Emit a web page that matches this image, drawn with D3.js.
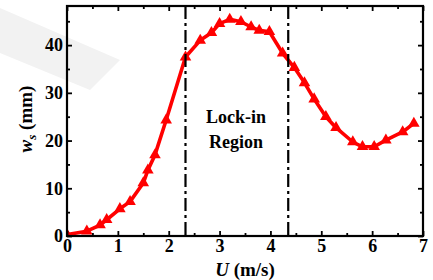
<!DOCTYPE html>
<html><head><meta charset="utf-8">
<script src="https://cdn.jsdelivr.net/npm/d3@7"></script>
<style>body{margin:0;background:#fff}svg{display:block}</style>
</head><body>
<svg id="c" width="433" height="280"></svg>
<script>
const U = [0, 0.39, 0.65, 0.78, 1.04, 1.24, 1.50, 1.59, 1.73, 1.95, 2.33, 2.62, 2.84, 3.0, 3.2, 3.42, 3.62, 3.78, 3.98, 4.24, 4.47, 4.67, 4.86, 5.09, 5.29, 5.62, 5.81, 6.04, 6.27, 6.6, 6.82];
const W = [0.3, 1.0, 2.3, 3.4, 5.7, 7.2, 11.1, 13.8, 17.0, 24.3, 37.5, 41.0, 42.6, 44.5, 45.4, 44.9, 43.8, 43.1, 42.8, 38.3, 35.3, 32.1, 28.7, 25.0, 22.7, 19.7, 18.7, 18.7, 20.1, 21.8, 23.6];
const lockIn = [2.33, 4.35];
const xTicks = [0, 1, 2, 3, 4, 5, 6, 7];
const yTicks = [0, 10, 20, 30, 40];

const svg = d3.select("#c");
const L = 67, R = 423, T = 6, B = 236;
const x = d3.scaleLinear().domain([0, 7]).range([L, R]);
const y = d3.scaleLinear().domain([0, 48.2]).range([B, T]);

// watermark band
svg.append("polygon").attr("points", "0,8 120,60 90,90 0,53").attr("fill", "#f2f2f2");

svg.append("clipPath").attr("id", "clip").append("rect")
  .attr("x", L).attr("y", T).attr("width", R - L).attr("height", B - T);

const g = svg.append("g").attr("clip-path", "url(#clip)");
const data = U.map((u, i) => [u, W[i]]);
g.append("path").datum(data)
  .attr("d", d3.line().x(d => x(d[0])).y(d => y(d[1])))
  .attr("fill", "none").attr("stroke", "#ff0000").attr("stroke-width", 3.6).attr("stroke-linejoin", "round");
g.selectAll("path.m").data(data).enter().append("path").attr("class", "m")
  .attr("d", d3.symbol().type(d3.symbolTriangle).size(58))
  .attr("transform", d => `translate(${x(d[0])},${y(d[1])})`)
  .attr("fill", "#ff0000");

// lock-in lines
svg.selectAll("line.lk").data(lockIn).enter().append("line").attr("class", "lk")
  .attr("x1", d => x(d)).attr("x2", d => x(d)).attr("y1", T).attr("y2", B)
  .attr("stroke", "#000").attr("stroke-width", 2.2).attr("stroke-dasharray", "13,4,3,4");

// axes (inward ticks)
const fnt = "'Liberation Serif', 'Times New Roman', serif";
function minor(arr, step) { const r = []; for (let i = 0; i < arr.length - 1; i++) r.push(arr[i] + step); return r; }
const xMinor = minor(xTicks, 0.5), yMinor = minor(yTicks, 5).concat([45]);

const ax = svg.append("g").attr("transform", `translate(0,${B})`)
  .call(d3.axisBottom(x).tickValues(xTicks).tickSizeInner(-5).tickSizeOuter(0).tickPadding(3).tickFormat(d3.format("d")));
const axm = svg.append("g").attr("transform", `translate(0,${B})`)
  .call(d3.axisBottom(x).tickValues(xMinor).tickSizeInner(-3).tickSizeOuter(0).tickFormat(""));
const at = svg.append("g").attr("transform", `translate(0,${T})`)
  .call(d3.axisTop(x).tickValues(xTicks).tickSizeInner(-5).tickSizeOuter(0).tickFormat(""));
const atm = svg.append("g").attr("transform", `translate(0,${T})`)
  .call(d3.axisTop(x).tickValues(xMinor).tickSizeInner(-3).tickSizeOuter(0).tickFormat(""));
const ay = svg.append("g").attr("transform", `translate(${L},0)`)
  .call(d3.axisLeft(y).tickValues(yTicks).tickSizeInner(-5).tickSizeOuter(0).tickPadding(4));
const aym = svg.append("g").attr("transform", `translate(${L},0)`)
  .call(d3.axisLeft(y).tickValues(yMinor).tickSizeInner(-3).tickSizeOuter(0).tickFormat(""));
const ar = svg.append("g").attr("transform", `translate(${R},0)`)
  .call(d3.axisRight(y).tickValues(yTicks).tickSizeInner(-5).tickSizeOuter(0).tickFormat(""));
const arm = svg.append("g").attr("transform", `translate(${R},0)`)
  .call(d3.axisRight(y).tickValues(yMinor).tickSizeInner(-3).tickSizeOuter(0).tickFormat(""));
[ax, axm, at, atm, ay, aym, ar, arm].forEach(a => {
  a.select(".domain").remove();
  a.selectAll("line").attr("stroke", "#000").attr("stroke-width", 1.8);
  a.selectAll("text").attr("font-family", fnt).attr("font-weight", "bold").attr("font-size", 18).attr("fill", "#000");
});

// frame
svg.append("rect").attr("x", L).attr("y", T).attr("width", R - L).attr("height", B - T)
  .attr("fill", "none").attr("stroke", "#000").attr("stroke-width", 2.2);

// labels
const xl = svg.append("text").attr("x", 245).attr("y", 276).attr("text-anchor", "middle")
  .attr("font-family", fnt).attr("font-weight", "bold").attr("font-size", 19);
xl.append("tspan").attr("font-style", "italic").text("U");
xl.append("tspan").text(" (m/s)");

const yl = svg.append("text").attr("transform", "translate(32,119) rotate(-90)").attr("text-anchor", "middle")
  .attr("font-family", fnt).attr("font-weight", "bold").attr("font-size", 19);
yl.append("tspan").attr("font-style", "italic").text("w");
yl.append("tspan").attr("font-style", "italic").attr("font-size", 13).attr("dy", 4).text("s");
yl.append("tspan").attr("dy", -4).text(" (mm)");

const lt = svg.append("text").attr("text-anchor", "middle").attr("font-family", fnt)
  .attr("font-weight", "bold").attr("font-size", 18);
lt.append("tspan").attr("x", 236).attr("y", 123).text("Lock-in");
lt.append("tspan").attr("x", 236).attr("y", 148).text("Region");
</script>
</body></html>
